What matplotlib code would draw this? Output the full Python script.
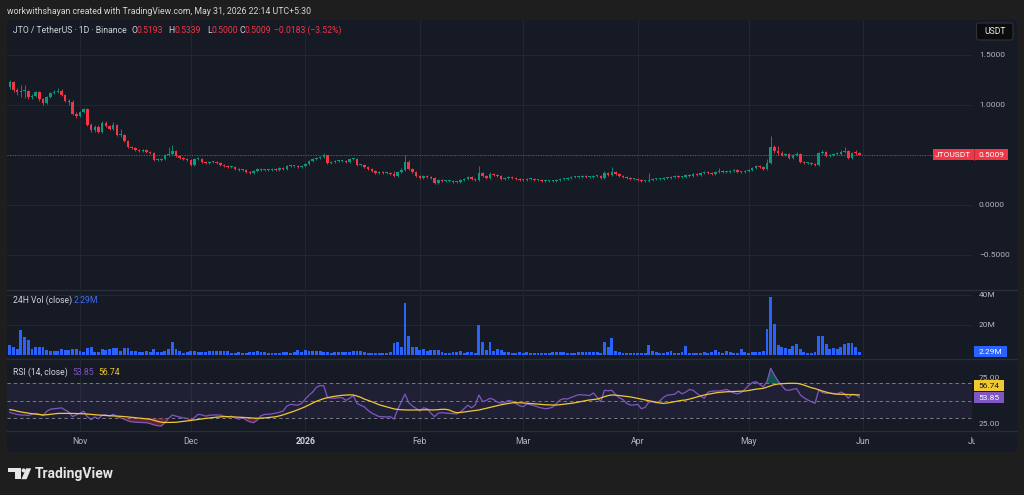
import datetime as dt
import numpy as np
import matplotlib
matplotlib.use("Agg")
import matplotlib.pyplot as plt
from matplotlib.patches import Rectangle, FancyBboxPatch, Polygon, Circle
from matplotlib.transforms import blended_transform_factory

# ---------------- data ----------------
start_date = dt.date(2025, 10, 13)
first_open = 1.18

closes = [
    1.23, 1.15, 1.13, 1.14, 1.14, 1.08, 1.09, 1.13, 1.06, 1.02,
    1.08, 1.12, 1.13, 1.14, 1.10, 1.04, 1.03, 0.91, 0.89, 0.93,
    0.96, 0.80, 0.75, 0.78, 0.73, 0.82, 0.79, 0.76, 0.80, 0.70,
    0.70, 0.64, 0.58, 0.57, 0.55, 0.54, 0.55, 0.53, 0.52, 0.45,
    0.45, 0.46, 0.50, 0.51, 0.54, 0.49, 0.47, 0.46, 0.45, 0.40,
    0.46, 0.46, 0.43, 0.42, 0.43, 0.43, 0.42, 0.40, 0.39, 0.38,
    0.38, 0.36, 0.35, 0.35, 0.33, 0.32, 0.34, 0.36, 0.35, 0.35,
    0.35, 0.36, 0.35, 0.37, 0.36, 0.39, 0.39, 0.39, 0.38, 0.39,
    0.41, 0.44, 0.46, 0.47, 0.48, 0.50, 0.42, 0.43, 0.44, 0.44,
    0.44, 0.43, 0.46, 0.46, 0.40, 0.40, 0.38, 0.36, 0.34, 0.32,
    0.33, 0.32, 0.32, 0.31, 0.29, 0.33, 0.35, 0.43, 0.36, 0.33,
    0.29, 0.27, 0.29, 0.28, 0.27, 0.22, 0.25, 0.24, 0.24, 0.24,
    0.23, 0.23, 0.25, 0.26, 0.28, 0.26, 0.25, 0.32, 0.29, 0.27,
    0.31, 0.30, 0.29, 0.26, 0.27, 0.28, 0.27, 0.26, 0.25, 0.25,
    0.26, 0.26, 0.25, 0.25, 0.24, 0.24, 0.24, 0.24, 0.25, 0.26,
    0.26, 0.27, 0.28, 0.28, 0.28, 0.29, 0.28, 0.28, 0.29, 0.29,
    0.27, 0.32, 0.30, 0.33, 0.31, 0.29, 0.28, 0.27, 0.26, 0.26,
    0.25, 0.24, 0.24, 0.25, 0.26, 0.26, 0.26, 0.27, 0.27, 0.28,
    0.29, 0.28, 0.28, 0.30, 0.29, 0.31, 0.30, 0.32, 0.33, 0.32,
    0.31, 0.33, 0.34, 0.33, 0.33, 0.34, 0.35, 0.33, 0.33, 0.34,
    0.35, 0.37, 0.39, 0.38, 0.36, 0.42, 0.58, 0.54, 0.52, 0.50,
    0.51, 0.47, 0.50, 0.51, 0.43, 0.42, 0.42, 0.41, 0.40, 0.52,
    0.53, 0.49, 0.50, 0.51, 0.51, 0.53, 0.54, 0.47, 0.52, 0.5193,
    0.5009,
]

highs = [
    1.25, 1.24, 1.17, 1.20, 1.20, 1.15, 1.11, 1.14, 1.14, 1.07,
    1.09, 1.13, 1.15, 1.17, 1.16, 1.11, 1.06, 1.05, 0.93, 0.94,
    0.97, 0.97, 0.82, 0.80, 0.80, 0.84, 0.84, 0.80, 0.83, 0.81,
    0.76, 0.71, 0.65, 0.59, 0.58, 0.56, 0.56, 0.56, 0.54, 0.53,
    0.47, 0.47, 0.51, 0.58, 0.60, 0.55, 0.50, 0.48, 0.47, 0.46,
    0.47, 0.48, 0.47, 0.44, 0.44, 0.44, 0.44, 0.43, 0.41, 0.40,
    0.39, 0.39, 0.37, 0.36, 0.36, 0.34, 0.35, 0.37, 0.37, 0.36,
    0.36, 0.37, 0.37, 0.38, 0.38, 0.40, 0.40, 0.40, 0.40, 0.40,
    0.42, 0.45, 0.47, 0.48, 0.49, 0.52, 0.50, 0.44, 0.45, 0.45,
    0.45, 0.45, 0.47, 0.47, 0.47, 0.41, 0.41, 0.39, 0.37, 0.35,
    0.34, 0.34, 0.33, 0.33, 0.34, 0.34, 0.37, 0.50, 0.45, 0.37,
    0.34, 0.30, 0.30, 0.30, 0.29, 0.28, 0.26, 0.26, 0.25, 0.25,
    0.25, 0.24, 0.26, 0.27, 0.29, 0.29, 0.27, 0.39, 0.33, 0.30,
    0.33, 0.32, 0.31, 0.30, 0.28, 0.29, 0.29, 0.28, 0.27, 0.26,
    0.27, 0.27, 0.27, 0.26, 0.26, 0.25, 0.25, 0.25, 0.26, 0.27,
    0.27, 0.28, 0.29, 0.29, 0.29, 0.30, 0.30, 0.29, 0.30, 0.30,
    0.30, 0.34, 0.33, 0.38, 0.34, 0.32, 0.30, 0.29, 0.28, 0.27,
    0.27, 0.26, 0.25, 0.32, 0.27, 0.27, 0.27, 0.28, 0.28, 0.29,
    0.30, 0.30, 0.29, 0.31, 0.31, 0.32, 0.32, 0.33, 0.34, 0.34,
    0.33, 0.34, 0.37, 0.35, 0.34, 0.35, 0.36, 0.36, 0.34, 0.35,
    0.36, 0.38, 0.40, 0.40, 0.39, 0.46, 0.69, 0.60, 0.59, 0.54,
    0.52, 0.52, 0.51, 0.53, 0.52, 0.44, 0.43, 0.43, 0.42, 0.53,
    0.55, 0.54, 0.51, 0.52, 0.53, 0.55, 0.58, 0.55, 0.53, 0.55,
    0.5339,
]

lows = [
    1.16, 1.13, 1.10, 1.08, 1.07, 1.06, 1.06, 1.08, 1.04, 1.00,
    1.01, 1.07, 1.11, 1.12, 1.09, 1.03, 1.00, 0.90, 0.87, 0.88,
    0.92, 0.79, 0.73, 0.73, 0.72, 0.72, 0.78, 0.75, 0.75, 0.69,
    0.68, 0.63, 0.57, 0.56, 0.54, 0.53, 0.53, 0.52, 0.51, 0.44,
    0.44, 0.44, 0.45, 0.49, 0.50, 0.48, 0.46, 0.45, 0.44, 0.39,
    0.39, 0.45, 0.42, 0.41, 0.41, 0.42, 0.41, 0.39, 0.38, 0.37,
    0.37, 0.35, 0.34, 0.34, 0.32, 0.31, 0.31, 0.33, 0.34, 0.34,
    0.34, 0.34, 0.34, 0.34, 0.35, 0.35, 0.38, 0.38, 0.37, 0.37,
    0.38, 0.40, 0.43, 0.45, 0.46, 0.47, 0.41, 0.41, 0.42, 0.43,
    0.43, 0.42, 0.42, 0.45, 0.39, 0.39, 0.37, 0.35, 0.33, 0.31,
    0.31, 0.31, 0.31, 0.30, 0.28, 0.28, 0.32, 0.34, 0.35, 0.32,
    0.28, 0.26, 0.26, 0.27, 0.26, 0.21, 0.21, 0.23, 0.23, 0.23,
    0.22, 0.22, 0.22, 0.24, 0.25, 0.25, 0.24, 0.24, 0.28, 0.26,
    0.26, 0.29, 0.28, 0.25, 0.25, 0.26, 0.26, 0.25, 0.24, 0.24,
    0.24, 0.25, 0.24, 0.24, 0.23, 0.23, 0.23, 0.23, 0.23, 0.24,
    0.25, 0.25, 0.26, 0.27, 0.27, 0.27, 0.27, 0.27, 0.27, 0.28,
    0.26, 0.26, 0.29, 0.29, 0.30, 0.28, 0.27, 0.26, 0.25, 0.25,
    0.24, 0.23, 0.23, 0.23, 0.24, 0.25, 0.25, 0.25, 0.26, 0.26,
    0.27, 0.27, 0.27, 0.27, 0.28, 0.28, 0.29, 0.29, 0.31, 0.31,
    0.30, 0.30, 0.32, 0.32, 0.32, 0.32, 0.33, 0.32, 0.32, 0.32,
    0.33, 0.34, 0.36, 0.37, 0.35, 0.35, 0.41, 0.52, 0.50, 0.49,
    0.49, 0.46, 0.46, 0.49, 0.42, 0.41, 0.41, 0.40, 0.39, 0.39,
    0.51, 0.48, 0.48, 0.49, 0.50, 0.50, 0.52, 0.46, 0.46, 0.50,
    0.5000,
]

volume_m = [
    6.7, 5.0, 4.0, 16.7, 12.0, 10.0, 4.0, 5.5, 5.0, 5.0,
    3.3, 2.7, 2.7, 2.7, 4.0, 3.3, 3.3, 4.0, 4.0, 2.7,
    2.2, 4.4, 5.0, 2.2, 2.2, 3.8, 3.3, 3.8, 4.4, 4.4,
    2.9, 4.4, 4.4, 2.9, 2.7, 2.2, 2.2, 2.7, 2.2, 3.8,
    2.2, 2.2, 2.9, 3.8, 8.9, 3.8, 2.7, 1.6, 2.2, 2.9,
    2.7, 2.2, 2.2, 1.8, 2.4, 2.4, 2.4, 2.4, 2.4, 2.4,
    1.3, 1.3, 1.8, 1.6, 1.6, 1.8, 2.2, 2.4, 1.8, 1.8,
    1.6, 1.6, 1.6, 1.6, 1.8, 1.8, 1.6, 1.8, 3.3, 2.0,
    3.3, 2.6, 2.6, 2.4, 2.4, 2.0, 1.8, 1.6, 2.0, 2.2,
    1.8, 2.0, 2.0, 2.6, 2.4, 2.4, 1.8, 1.6, 1.6, 1.6,
    1.6, 1.6, 1.6, 1.8, 7.8, 8.4, 5.5, 34.4, 12.9, 5.0,
    5.0, 3.3, 4.0, 2.9, 3.3, 3.3, 3.3, 1.8, 1.6, 1.6,
    1.8, 1.8, 2.9, 1.6, 2.0, 1.8, 1.6, 20.0, 8.4, 3.3,
    8.4, 2.9, 4.0, 3.3, 2.2, 1.8, 1.6, 1.6, 1.8, 1.6,
    2.0, 1.6, 1.6, 1.4, 1.4, 1.6, 1.6, 1.8, 1.8, 2.0,
    2.0, 1.6, 1.4, 1.6, 1.8, 2.0, 2.2, 2.2, 1.8, 1.8,
    1.6, 8.9, 5.5, 11.0, 2.7, 1.8, 1.6, 1.4, 1.4, 1.4,
    1.4, 1.4, 1.6, 6.7, 2.4, 1.8, 1.6, 1.6, 1.8, 2.4,
    1.6, 1.6, 1.8, 6.0, 1.6, 1.4, 1.4, 1.6, 1.8, 1.6,
    2.2, 3.3, 2.0, 1.6, 2.7, 1.8, 1.6, 1.6, 3.8, 2.0,
    1.6, 1.8, 2.2, 2.0, 2.7, 17.3, 38.9, 20.4, 6.7, 5.5,
    4.9, 4.0, 6.2, 7.1, 3.8, 2.2, 1.6, 1.6, 2.2, 12.9,
    12.9, 7.3, 3.8, 4.9, 4.0, 5.5, 7.3, 8.2, 8.2, 5.1,
    2.29,
]

rsi = [
    36.9, 35.5, 34.5, 33.8, 33.8, 33.3, 34.5, 35.7, 34.6, 33.0,
    38.0, 40.4, 41.0, 41.4, 42.0, 39.5, 37.0, 32.0, 34.0, 36.0,
    38.0, 31.9, 28.5, 31.5, 29.5, 33.5, 34.0, 32.5, 34.6, 32.0,
    30.5, 29.0, 27.0, 26.0, 25.5, 25.4, 25.2, 25.0, 24.0, 22.5,
    21.6, 21.2, 25.0, 30.0, 33.8, 32.5, 31.5, 30.5, 30.0, 27.3,
    31.0, 34.6, 34.0, 32.5, 33.5, 33.8, 33.8, 33.8, 32.5, 31.5,
    32.5, 30.5, 29.0, 31.0, 28.0, 26.0, 25.0, 28.0, 33.0, 34.5,
    34.6, 35.2, 36.0, 37.0, 38.4, 44.0, 46.0, 45.5, 45.0, 47.0,
    52.0, 56.5, 60.0, 65.5, 67.3, 67.3, 53.6, 53.0, 53.0, 53.6,
    53.6, 50.5, 53.0, 55.9, 47.0, 45.0, 43.0, 39.0, 36.0, 34.0,
    31.9, 31.9, 31.5, 31.9, 29.2, 40.0, 49.0, 57.8, 48.0, 44.0,
    41.4, 38.5, 42.0, 41.0, 36.0, 31.9, 36.0, 36.5, 36.0, 35.7,
    35.5, 35.0, 37.5, 41.0, 45.0, 42.0, 45.0, 56.7, 49.0, 50.5,
    52.9, 51.5, 48.5, 47.5, 48.0, 50.5, 49.5, 47.0, 44.5, 43.3,
    46.5, 45.5, 44.5, 43.0, 41.8, 41.0, 41.5, 43.0, 47.0, 51.0,
    52.5, 52.0, 54.0, 55.5, 57.0, 56.8, 56.5, 56.0, 59.0, 54.0,
    49.0, 62.0, 61.5, 62.0, 57.0, 53.5, 51.5, 47.0, 45.2, 45.2,
    46.0, 41.0, 42.5, 48.5, 49.0, 47.5, 50.0, 54.0, 56.5, 57.0,
    57.5, 61.0, 58.0, 60.0, 63.0, 62.0, 58.5, 55.5, 52.9, 60.0,
    61.0, 61.2, 61.2, 62.0, 63.0, 61.0, 59.0, 58.0, 59.5, 63.0,
    67.5, 70.8, 71.9, 69.0, 66.0, 72.0, 87.1, 79.5, 72.5, 67.5,
    62.5, 62.0, 63.2, 64.0, 57.0, 53.5, 51.0, 49.0, 47.1, 62.4,
    59.5, 58.5, 59.0, 58.5, 58.0, 60.0, 58.0, 53.0, 57.5, 57.0,
    53.85,
]

rsi_ma = [
    40.0, 39.3, 38.2, 37.3, 36.6, 35.9, 35.3, 34.8, 34.3, 33.9,
    34.1, 34.6, 35.1, 35.6, 35.7, 35.7, 35.7, 35.6, 35.5, 35.4,
    35.2, 34.9, 34.5, 34.1, 33.8, 33.5, 33.3, 33.0, 32.8, 32.6,
    32.3, 32.0, 31.6, 31.1, 30.7, 30.3, 29.9, 29.5, 29.0, 27.8,
    26.6, 25.6, 25.3, 25.3, 25.4, 25.5, 26.0, 26.5, 27.0, 27.6,
    28.2, 28.8, 29.3, 29.9, 30.4, 30.9, 31.3, 31.7, 32.0, 32.0,
    31.8, 31.5, 31.3, 31.1, 30.8, 30.5, 30.2, 30.0, 30.2, 30.5,
    30.9, 31.3, 31.8, 32.8, 34.0, 35.4, 36.8, 38.2, 39.8, 41.5,
    43.3, 45.4, 47.5, 49.5, 51.0, 52.5, 53.6, 54.5, 55.2, 55.8,
    56.3, 56.6, 56.8, 56.7, 55.5, 54.0, 52.0, 50.5, 49.0, 47.3,
    45.5, 44.3, 43.2, 42.0, 40.8, 40.2, 39.8, 39.6, 39.5, 39.5,
    39.5, 39.6, 39.7, 39.8, 39.6, 39.6, 40.0, 40.3, 40.3, 39.5,
    37.5, 36.5, 36.7, 37.3, 37.9, 38.5, 39.0, 39.5, 40.5, 41.5,
    42.5, 43.5, 44.5, 45.5, 46.3, 47.0, 47.7, 47.9, 47.8, 47.6,
    47.3, 47.0, 46.6, 46.2, 45.8, 45.5, 45.3, 45.2, 45.2, 45.6,
    46.2, 46.7, 47.1, 47.8, 48.6, 49.5, 50.3, 51.0, 51.5, 52.0,
    53.3, 54.8, 56.0, 56.7, 56.5, 56.0, 55.4, 54.9, 54.5, 53.7,
    52.8, 51.9, 51.0, 50.1, 49.2, 48.3, 47.5, 47.1, 47.5, 48.3,
    49.2, 50.0, 50.6, 51.0, 52.0, 53.2, 54.4, 55.6, 56.7, 57.5,
    58.3, 59.0, 59.6, 60.0, 60.3, 60.5, 60.7, 60.9, 61.1, 61.2,
    61.8, 62.6, 63.3, 63.8, 64.3, 65.7, 67.2, 68.5, 69.2, 69.6,
    69.8, 70.0, 70.0, 70.0, 69.3, 68.0, 66.5, 65.0, 64.0, 62.6,
    61.2, 60.0, 58.8, 58.0, 57.6, 57.4, 57.3, 57.2, 57.0, 56.9,
    56.74,
]

month_labels = ["Nov", "Dec", "2026", "Feb", "Mar", "Apr", "May", "Jun", "Jul"]
month_dates = [dt.date(2025, 11, 1), dt.date(2025, 12, 1), dt.date(2026, 1, 1),
               dt.date(2026, 2, 1), dt.date(2026, 3, 1), dt.date(2026, 4, 1),
               dt.date(2026, 5, 1), dt.date(2026, 6, 1), dt.date(2026, 7, 1)]
price_ticks = [1.5, 1.0, 0.0, -0.5]
price_tick_labels = ["1.5000", "1.0000", "0.0000", "\u22120.5000"]
price_grid = [1.5, 1.0, 0.5, 0.0, -0.5]
vol_ticks = [40, 20]
vol_tick_labels = ["40M", "20M"]
rsi_ticks = [75, 25]
rsi_tick_labels = ["75.00", "25.00"]
rsi_levels = [70, 50, 30]
last_price = 0.5009
last_volume = 2.29
last_rsi = 53.85
last_rsi_ma = 56.74

title_text = "workwithshayan created with TradingView.com, May 31, 2026 22:14 UTC+5:30"
symbol_text = "JTO / TetherUS \u00b7 1D \u00b7 Binance"

n = len(closes)
for nm, arr in [("highs", highs), ("lows", lows), ("volume_m", volume_m),
                ("rsi", rsi), ("rsi_ma", rsi_ma)]:
    if len(arr) != n:
        raise ValueError(f"{nm} has {len(arr)} values, closes has {n}")

opens = [first_open] + closes[:-1]
idx = np.arange(n)
month_idx = [(d - start_date).days for d in month_dates]

# ---------------- style ----------------
plt.rcParams["font.family"] = ["Roboto", "DejaVu Sans"]
W, H = 1024, 495
OUTER = "#1e1e1e"
PANEL = "#161a25"
GRID = "#222633"
SEP = "#2a2e39"
TXT = "#b2b5be"
UP = "#089981"
DOWN = "#f23645"
BLUE = "#2962ff"
PURPLE = "#7e57c2"
YELLOW = "#f2c830"

PX_L, PX_R = 7, 972          # plot area (pixels)
XLIM = (-0.76, 260.5)

fig = plt.figure(figsize=(W / 100, H / 100), dpi=100)
fig.patch.set_facecolor(OUTER)


def rect(x0, y0, x1, y1):
    return [x0 / W, 1 - y1 / H, (x1 - x0) / W, (y1 - y0) / H]


def axfrac(px):
    return (px - PX_L) / (PX_R - PX_L)


# background overlay (pixel coords)
bg = fig.add_axes([0, 0, 1, 1])
bg.set_xlim(0, W)
bg.set_ylim(H, 0)
bg.axis("off")
bg.set_zorder(0)
bg.add_patch(Rectangle((7, 20), 1010, 432, color=PANEL, lw=0))
for yy in (289.5, 358.5, 431.0):
    bg.plot([7, 1017], [yy, yy], color=SEP, lw=1.0)

# ---------------- price pane ----------------
axp = fig.add_axes(rect(PX_L, 20, PX_R, 289))
axv = fig.add_axes(rect(PX_L, 290, PX_R, 358))
axr = fig.add_axes(rect(PX_L, 359, PX_R, 431))
axt = fig.add_axes(rect(PX_L, 431, PX_R + 3, 452))
for a in (axp, axv, axr, axt):
    a.set_facecolor("none")
    a.set_zorder(2)
    for s in a.spines.values():
        s.set_visible(False)
    a.set_xticks([])
    a.set_yticks([])
    a.set_xlim(*XLIM)
axt.set_xlim(XLIM[0], XLIM[0] + (XLIM[1] - XLIM[0]) * (PX_R + 3 - PX_L) / (PX_R - PX_L))

axp.set_ylim(-0.84, 1.85)
axv.set_ylim(-2.0, 43.33)
axr.set_ylim(15.54, 97.77)
axt.set_ylim(0, 1)

for a in (axp, axv, axr):
    for m in month_idx:
        a.axvline(m, color=GRID, lw=0.8, zorder=0)
for g in price_grid:
    axp.axhline(g, color=GRID, lw=0.8, zorder=0)
for g in vol_ticks:
    axv.axhline(g, color=GRID, lw=0.8, zorder=0)

o = np.array(opens)
c = np.array(closes)
hi = np.array(highs)
lo = np.array(lows)
cols = [UP if cc >= oo else DOWN for oo, cc in zip(o, c)]
body_low = np.minimum(o, c)
body_h = np.maximum(np.abs(c - o), 0.006)
axp.vlines(idx, lo, hi, colors=cols, lw=0.6, zorder=3)
axp.bar(idx, body_h, bottom=body_low, width=0.68, color=cols, lw=0, zorder=4)
axp.axhline(last_price, color=DOWN, lw=0.7, ls=(0, (1, 1.6)), zorder=2, alpha=0.8)

# ---------------- volume pane ----------------
axv.bar(idx, volume_m, width=0.78, color=BLUE, lw=0, zorder=3)

# ---------------- RSI pane ----------------
r = np.array(rsi)
rm = np.array(rsi_ma)
axr.axhspan(rsi_levels[2], rsi_levels[0], color=PURPLE, alpha=0.10, lw=0, zorder=1)
for lv in rsi_levels:
    axr.axhline(lv, color="#787b86", lw=0.7, ls=(0, (3.5, 3)), zorder=2)
axr.fill_between(idx, r, rsi_levels[0], where=r > rsi_levels[0], interpolate=True,
                 color=UP, alpha=0.45, lw=0, zorder=2)
axr.fill_between(idx, r, rsi_levels[2], where=r < rsi_levels[2], interpolate=True,
                 color=DOWN, alpha=0.35, lw=0, zorder=2)
axr.plot(idx, r, color=PURPLE, lw=0.9, zorder=4)
axr.plot(idx, rm, color=YELLOW, lw=0.9, zorder=5)

# ---------------- time axis ----------------
for lab, m in zip(month_labels, month_idx):
    bold = lab == "2026"
    axt.text(m, 0.5, lab, ha="center", va="center", fontsize=6.3,
             color="#d1d4dc" if bold else TXT, fontweight="bold" if bold else "normal",
             clip_on=True)

# ---------------- scale labels ----------------
def scale_text(ax, val, lab):
    tr = blended_transform_factory(ax.transAxes, ax.transData)
    ax.text(axfrac(979), val, lab, transform=tr, ha="left", va="center",
            fontsize=6.0, color=TXT, clip_on=False)

for v, lab in zip(price_ticks, price_tick_labels):
    scale_text(axp, v, lab)
for v, lab in zip(vol_ticks, vol_tick_labels):
    scale_text(axv, v, lab)
for v, lab in zip(rsi_ticks, rsi_tick_labels):
    scale_text(axr, v + 1.0 if v > 50 else v - 1.0, lab)

# ---------------- foreground overlay ----------------
fg = fig.add_axes([0, 0, 1, 1])
fg.set_xlim(0, W)
fg.set_ylim(H, 0)
fg.axis("off")
fg.set_zorder(20)
fg.patch.set_alpha(0)


def pix_y(ax, val):
    return H - ax.transData.transform((0, val))[1]


# title and headers
fg.text(7, 11, title_text, fontsize=6.3, color="#d1d4dc", va="center", ha="left")
hy = 30.7
fg.text(13, hy, symbol_text, fontsize=6.2, color="#d1d4dc", va="center")
for xx, t, col in [(132, "O", "#d1d4dc"), (136.5, "0.5193", DOWN),
                   (168, "H", "#d1d4dc"), (174.5, "0.5339", DOWN),
                   (207, "L", "#d1d4dc"), (211.5, "0.5000", DOWN),
                   (239, "C", "#d1d4dc"), (244.5, "0.5009", DOWN),
                   (274, "\u22120.0183 (\u22123.52%)", DOWN)]:
    fg.text(xx, hy, t, fontsize=6.2, color=col, va="center")

fg.text(13, 300.5, "24H Vol (close)", fontsize=6.2, color="#d1d4dc", va="center")
fg.text(74, 300.5, "2.29M", fontsize=6.2, color="#3d6df5", va="center")
fg.text(13, 372.3, "RSI (14, close)", fontsize=6.2, color="#d1d4dc", va="center")
fg.text(72, 372.3, "53.85", fontsize=6.2, color=PURPLE, va="center")
fg.text(98, 372.3, "56.74", fontsize=6.2, color=YELLOW, va="center")

# USDT box
fg.add_patch(FancyBboxPatch((976.5, 23), 36.5, 17, boxstyle="round,pad=0,rounding_size=2.5",
                            fc="#0c0c0c", ec="#2e323d", lw=0.8))
fg.text(994.7, 31.5, "USDT", fontsize=6.2, color="#e8e8e8", ha="center", va="center")

# last price label
yp = pix_y(axp, last_price)
fg.add_patch(Rectangle((933, yp - 5.5), 75, 11, color=DOWN, lw=0))
fg.plot([973.5, 973.5], [yp - 5.5, yp + 5.5], color="#b82836", lw=0.6)
fg.text(953, yp + 0.3, "JTOUSDT", fontsize=6.0, color="white", ha="center", va="center")
fg.text(991, yp + 0.3, f"{last_price:.4f}", fontsize=6.0, color="white", ha="center", va="center")

# last volume label
yv = pix_y(axv, last_volume)
fg.add_patch(Rectangle((974, yv - 5.5), 33, 11, color=BLUE, lw=0))
fg.text(990.5, yv + 0.3, "2.29M", fontsize=6.0, color="white", ha="center", va="center")

# RSI labels (stacked to avoid overlap)
yr = pix_y(axr, last_rsi)
fg.add_patch(Rectangle((974, yr - 5.5), 30, 11, color=PURPLE, lw=0))
fg.text(989, yr + 0.3, f"{last_rsi:.2f}", fontsize=6.0, color="white", ha="center", va="center")
fg.add_patch(Rectangle((974, yr - 17), 30, 11, color=YELLOW, lw=0))
fg.text(989, yr - 11.2, f"{last_rsi_ma:.2f}", fontsize=6.0, color="#131722", ha="center", va="center")

# TradingView logo + wordmark
LOGO = "#e6e6e6"
fg.add_patch(Polygon([(8.3, 468.3), (20.5, 468.3), (20.5, 479.2), (15.4, 479.2),
                      (15.4, 472.3), (8.3, 472.3)], closed=True, color=LOGO, lw=0))
fg.add_patch(Circle((23.6, 470.4), 2.0, color=LOGO, lw=0))
fg.add_patch(Polygon([(26.2, 468.3), (31.2, 468.3), (26.6, 479.2), (21.4, 479.2)],
                     closed=True, color=LOGO, lw=0))
fg.text(35, 474, "TradingView", fontsize=10, fontweight="bold", color=LOGO,
        ha="left", va="center")

fig.savefig("out.png", dpi=100, facecolor=OUTER)
